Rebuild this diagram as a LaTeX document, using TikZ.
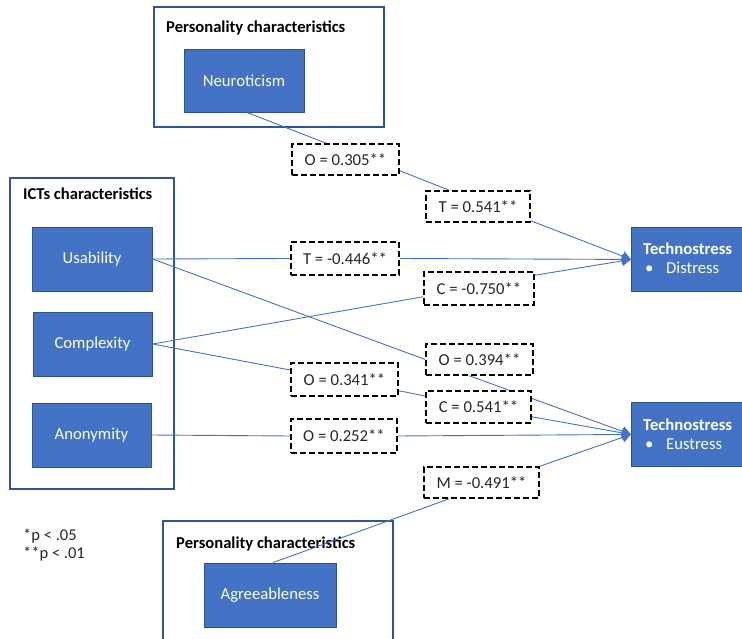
\documentclass[tikz,border=0pt]{standalone}
\usepackage{fontspec}
\setmainfont{Carlito}
\usetikzlibrary{calc,arrows.meta}
\definecolor{boxblue}{HTML}{4472C4}
\definecolor{boxedge}{HTML}{2F528F}
\definecolor{outeredge}{HTML}{2F5597}
\definecolor{linkblue}{HTML}{4472C4}
\definecolor{labeltext}{HTML}{262626}
\pgfdeclarelayer{linklayer}
\pgfdeclarelayer{labellayer}
\pgfsetlayers{main,linklayer,labellayer}
\tikzset{
  outerbox/.style={draw=outeredge, line width=1.4pt, fill=white, inner sep=0pt},
  titletext/.style={font=\fontsize{16.6}{18}\selectfont\bfseries, text=black, inner sep=0pt, anchor=base west},
  bluebox/.style={draw=boxedge, line width=0.9pt, fill=boxblue, text=white, inner sep=0pt,
    font=\fontsize{16.7}{18}\selectfont},
  boxtext/.style={text=white, inner sep=0pt, anchor=base west, font=\fontsize{16.7}{18}\selectfont},
  lbl/.style={draw=black, dash pattern=on 6pt off 3pt, line width=1.5pt, fill=white,
    text=labeltext, inner sep=0pt, font=\fontsize{16.7}{18}\selectfont},
  link/.style={draw=linkblue, line width=0.9pt},
  arr/.style={link, -{Triangle[length=9pt,width=10pt]}},
  legend/.style={inner sep=0pt, anchor=base west, text=labeltext, font=\fontsize{16.5}{18}\selectfont}
}
\begin{document}
\begin{tikzpicture}[x=1pt,y=-1pt]
\clip (0,0) rectangle (742,639);
\fill[white] (0,0) rectangle (742,639);

% outer boxes
\node[outerbox, minimum width=230pt, minimum height=120pt] (pers1) at (269,67) {};
\node[titletext] (pers1t) at (166,33) {Personality characteristics};
\node[outerbox, minimum width=164pt, minimum height=311pt] (icts) at (92,333.5) {};
\node[titletext] (ictst) at (23,200) {ICTs characteristics};
\node[outerbox, minimum width=230pt, minimum height=140pt] (pers2) at (278,591) {};
\node[titletext] (pers2t) at (176,548) {Personality characteristics};

% blue boxes
\node[bluebox, minimum width=120pt, minimum height=63pt] (neuro) at (244,80.5) {Neuroticism};
\node[bluebox, minimum width=120pt, minimum height=64pt] (usab) at (92,259) {Usability};
\node[bluebox, minimum width=119pt, minimum height=64pt] (compl) at (92.5,344) {Complexity};
\node[bluebox, minimum width=119pt, minimum height=64pt] (anon) at (91.5,435) {Anonymity};
\node[bluebox, minimum width=132pt, minimum height=64pt] (agree) at (270,595) {Agreeableness};
\node[bluebox, minimum width=125pt, minimum height=64pt, anchor=north west] (dist) at (631,227) {};
\node[boxtext] (distt) at (643,255) {\bfseries Technostress};
\node[boxtext] (distb) at (645,274) {\makebox[21pt][l]{\textbullet}Distress};
\node[bluebox, minimum width=125pt, minimum height=64pt, anchor=north west] (eust) at (631,402) {};
\node[boxtext] (eustt) at (643,430) {\bfseries Technostress};
\node[boxtext] (eustb) at (645,449) {\makebox[21pt][l]{\textbullet}Eustress};

% label boxes
\begin{pgfonlayer}{labellayer}
\node[lbl, minimum width=107pt, minimum height=31pt] (o305) at (345.5,159.5) {O = 0.305**};
\node[lbl, minimum width=104pt, minimum height=31pt] (t541) at (478,206.5) {T = 0.541**};
\node[lbl, minimum width=108pt, minimum height=33pt] (t446) at (345,258.5) {T = -0.446**};
\node[lbl, minimum width=110pt, minimum height=33pt] (c750) at (479,288.5) {C = -0.750**};
\node[lbl, minimum width=107pt, minimum height=31pt] (o394) at (479.5,359.5) {O = 0.394**};
\node[lbl, minimum width=107pt, minimum height=33pt] (o341) at (344.5,379.5) {O = 0.341**};
\node[lbl, minimum width=105pt, minimum height=32pt] (c541) at (478.5,407) {C = 0.541**};
\node[lbl, minimum width=106pt, minimum height=34pt] (o252) at (344,436) {O = 0.252**};
\node[lbl, minimum width=115pt, minimum height=31pt] (m491) at (481.5,482.5) {M = -0.491**};
\end{pgfonlayer}

% links
\begin{pgfonlayer}{linklayer}
\draw[link] ($(neuro.south)+(3,0)$) -- ($(o305.north west)+(35,0)$);
\draw[link] ($(o305.south east)+(0,-5)$) -- ($(t541.north west)+(24,0)$);
\draw[arr] ($(t541.south east)+(0,-2)$) -- (dist.west);
\draw[link] (usab.east) -- (t446.west);
\draw[arr] (t446.east) -- (dist.west);
\draw[link] (compl.east) -- ($(c750.south west)+(0,-9)$);
\draw[arr] ($(c750.north east)+(0,4)$) -- (dist.west);
\draw[link] (usab.east) -- (o394.west);
\draw[arr] ($(o394.south west)+(44,0)$) -- (eust.west);
\draw[link] (compl.east) -- ($(o341.west)+(0,-9.5)$);
\draw[link] ($(o341.south east)+(0,-6)$) -- ($(c541.west)+(0,-11)$);
\draw[arr] ($(c541.south east)+(0,-7)$) -- (eust.west);
\draw[link] (anon.east) -- (o252.west);
\draw[arr] (o252.east) -- (eust.west);
\draw[link] ($(agree.north)+(3,0)$) -- ($(m491.south west)+(26,0)$);
\draw[arr] (m491.north east) -- (eust.west);
\end{pgfonlayer}

% legend
\node[legend] (leg1) at (23,540) {*p < .05};
\node[legend] (leg2) at (23,558) {**p < .01};
\end{tikzpicture}
\end{document}
